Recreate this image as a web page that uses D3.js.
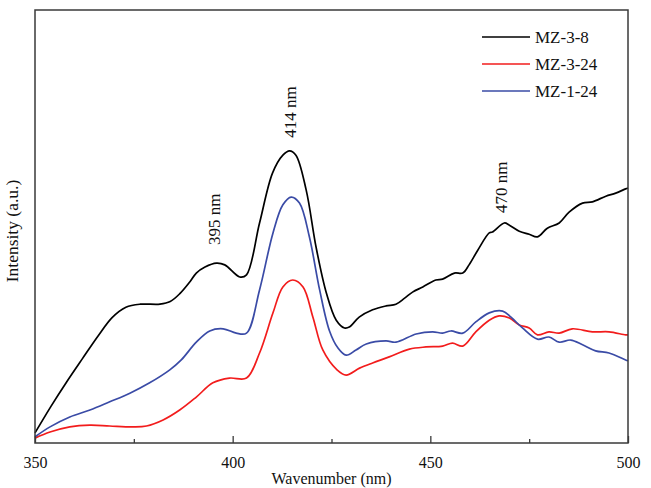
<!DOCTYPE html>
<html>
<head>
<meta charset="utf-8">
<script src="https://cdn.jsdelivr.net/npm/d3@7"></script>
<style>
  html, body { margin: 0; padding: 0; background: #fff; }
  svg { display: block; }
  text { font-family: "Liberation Serif", "Times New Roman", serif; fill: #111; }
</style>
</head>
<body>
<svg id="chart" width="651" height="488"></svg>
<script>
// Photoluminescence spectra (excitation scan), intensity in arbitrary units
const seriesNames = ["MZ-3-8", "MZ-3-24", "MZ-1-24"];
const seriesColors = ["#000000", "#f21c1c", "#3a4ba6"];

const wlMZ38 = [350, 354, 358, 362, 366, 369.5, 373, 376.6, 381.6, 384.2, 386.7, 389.2, 390.8, 393, 395.9, 398, 401.8, 403.5, 406.8, 410.1, 412.7, 414.4, 416, 418.6, 421.1, 423.7, 426.2, 428.3, 429.5, 432, 435.4, 438.8, 441.3, 443.5, 445.5, 448.1, 451.4, 453.1, 456.1, 458.2, 459.8, 462, 464.9, 465.7, 468.7, 470, 472.5, 475, 477.1, 479.6, 482.6, 485.1, 488.5, 491, 494.4, 496.9, 499.4, 500];
const intMZ38 = [2.1, 8.2, 13.9, 19.3, 24.6, 28.8, 31.2, 31.9, 31.9, 32.5, 34.4, 37.1, 39.1, 40.5, 41.4, 41.0, 38.2, 38.7, 50.7, 62.3, 66.4, 67.4, 66.4, 58.3, 45.1, 34.5, 28.2, 26.4, 26.6, 28.9, 30.6, 31.5, 31.9, 33.3, 34.7, 35.9, 37.5, 37.7, 39.1, 39.1, 41.0, 44.4, 48.4, 48.6, 50.7, 50.2, 48.8, 48.1, 47.5, 49.5, 50.7, 53.2, 55.3, 55.6, 56.9, 57.6, 58.6, 58.8];

const wlMZ324 = [350, 353.8, 358.8, 363.9, 368.9, 374.8, 378.2, 382.4, 386.6, 390.8, 395, 399.2, 403.5, 406.8, 410.2, 412.7, 415.2, 417.8, 420.3, 422.8, 426.4, 428.7, 432.1, 435.4, 439.6, 444.7, 448.9, 453.1, 455.6, 458.2, 461.5, 464.9, 467.4, 470, 472.5, 475, 477.1, 480, 482.6, 485.9, 491, 495.2, 499.4, 500];
const intMZ324 = [0.9, 2.3, 3.5, 3.9, 3.7, 3.5, 3.7, 5.1, 7.4, 10.4, 13.7, 14.8, 14.8, 20.6, 29.9, 35.9, 37.5, 35.9, 28.9, 21.3, 16.7, 15.5, 17.1, 18.3, 19.7, 21.5, 22.0, 22.2, 22.9, 22.2, 25.5, 28.2, 29.2, 28.7, 27.1, 26.4, 24.8, 25.5, 25.2, 26.2, 25.5, 25.5, 24.8, 24.8];

const wlMZ124 = [350, 353.8, 358.8, 363.9, 368.9, 374, 379, 384.1, 387, 390.8, 394.2, 397.6, 400.9, 403.5, 406.8, 410.2, 412.7, 414.8, 416.9, 419.4, 422, 424.5, 426.6, 428.7, 431.2, 433.8, 438.8, 441.3, 446.4, 450.6, 453.1, 455.2, 458.2, 461.5, 464.9, 468.3, 470.4, 473.3, 477.1, 480, 482.6, 485.5, 488.5, 491.8, 495.2, 499.4, 500];
const intMZ124 = [1.2, 3.5, 5.8, 7.4, 9.3, 11.3, 13.7, 16.7, 19.0, 23.1, 25.7, 26.2, 25.2, 25.2, 35.2, 48.4, 54.9, 56.7, 55.3, 47.5, 35.2, 25.7, 21.8, 20.1, 21.3, 22.7, 23.4, 23.1, 25.0, 25.5, 25.2, 25.7, 25.2, 27.8, 29.9, 30.3, 28.9, 26.4, 23.8, 24.3, 23.1, 23.6, 22.5, 21.1, 20.6, 19.0, 18.8];

const xTicks = [350, 400, 450, 500];
const xMinorTicks = [375, 425, 475];

// Peak annotations: label text and the point where each rotated label starts
const peakLabels = ["395 nm", "414 nm", "470 nm"];
const peakWl = [395.3, 414.5, 467.9];
const peakInt = [45.6, 70.4, 53.0];

const svg = d3.select("#chart");
const margin = { left: 35, right: 23, top: 10, bottom: 46 };
const W = 651, H = 488;

const x = d3.scaleLinear().domain([350, 500]).range([margin.left, W - margin.right]);
const y = d3.scaleLinear().domain([0, 100]).range([H - margin.bottom, margin.top]);

const series = [
  { name: seriesNames[0], color: seriesColors[0], wl: wlMZ38, v: intMZ38 },
  { name: seriesNames[1], color: seriesColors[1], wl: wlMZ324, v: intMZ324 },
  { name: seriesNames[2], color: seriesColors[2], wl: wlMZ124, v: intMZ124 }
];

const line = d3.line()
  .x(d => x(d[0]))
  .y(d => y(d[1]))
  .curve(d3.curveCatmullRom.alpha(0.5));

// Spectra (drawn under the frame)
const plot = svg.append("g");
series.forEach(s => {
  plot.append("path")
    .datum(s.wl.map((w, i) => [w, s.v[i]]))
    .attr("fill", "none")
    .attr("stroke", s.color)
    .attr("stroke-width", 1.7)
    .attr("stroke-linejoin", "round")
    .attr("d", line);
});

// Frame
svg.append("rect")
  .attr("x", x(350)).attr("y", y(100))
  .attr("width", x(500) - x(350)).attr("height", y(0) - y(100) + 1)
  .attr("fill", "none").attr("stroke", "#3a3a3a").attr("stroke-width", 1.5);

// Bottom axis: inward ticks, labels below
const xAxis = d3.axisBottom(x).tickValues(xTicks).tickSize(-7).tickPadding(14).tickFormat(d3.format("d"));
const gx = svg.append("g").attr("transform", `translate(0,${y(0) + 1})`).call(xAxis);
gx.select(".domain").remove();
gx.selectAll(".tick line").attr("stroke", "#3a3a3a").attr("stroke-width", 1.3);
gx.selectAll(".tick text").attr("font-size", 16).attr("font-family", "Liberation Serif").attr("fill", "#111");

const xMinor = d3.axisBottom(x).tickValues(xMinorTicks).tickSize(-4).tickFormat("");
const gm = svg.append("g").attr("transform", `translate(0,${y(0) + 1})`).call(xMinor);
gm.select(".domain").remove();
gm.selectAll(".tick line").attr("stroke", "#3a3a3a").attr("stroke-width", 1.3);

// Axis titles
svg.append("text")
  .attr("x", (x(350) + x(500)) / 2).attr("y", 484)
  .attr("text-anchor", "middle").attr("font-size", 16)
  .text("Wavenumber (nm)");

svg.append("text")
  .attr("transform", "translate(18,231) rotate(-90)")
  .attr("text-anchor", "middle").attr("font-size", 17.5)
  .text("Intensity (a.u.)");

// Peak labels, rotated
peakLabels.forEach((t, i) => {
  svg.append("text")
    .attr("transform", `translate(${x(peakWl[i]) + 6},${y(peakInt[i])}) rotate(-90)`)
    .attr("text-anchor", "start").attr("font-size", 17)
    .text(t);
});

// Legend
const legend = svg.append("g").attr("transform", "translate(482,37)");
series.forEach((s, i) => {
  const g = legend.append("g").attr("transform", `translate(0,${i * 27})`);
  g.append("line").attr("x1", 0).attr("x2", 48).attr("y1", 0).attr("y2", 0)
    .attr("stroke", s.color).attr("stroke-width", 1.7);
  g.append("text").attr("x", 53).attr("y", 6).attr("font-size", 17).text(s.name);
});
</script>
</body>
</html>
